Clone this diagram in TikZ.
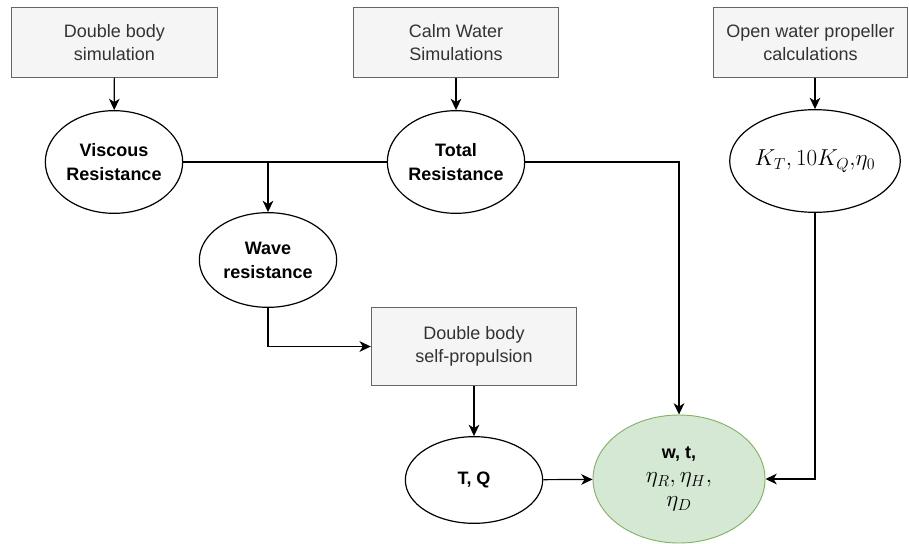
\documentclass[tikz,border=0pt]{standalone}
\usepackage{amssymb}
\usepackage{amsmath}
\usepackage{fontspec}
\setmainfont{Liberation Sans}
\usepackage{tikz}
\usetikzlibrary{arrows.meta}
\usetikzlibrary{shapes.geometric}
\usetikzlibrary{positioning}

\definecolor{boxfill}{HTML}{F5F5F5}
\definecolor{boxline}{HTML}{666666}
\definecolor{boxtext}{HTML}{333333}
\definecolor{goalfill}{HTML}{D5E8D4}
\definecolor{goalline}{HTML}{82B366}

\begin{document}
\begin{tikzpicture}[->,>={Stealth[length=8.5pt,width=8pt,inset=2.5pt]},x=0.75pt,y=-0.75pt,line width=0.9pt,
	sim/.style={rectangle, draw=boxline, fill=boxfill, text=boxtext, line width=0.8pt, minimum width=154pt, minimum height=52pt, align=center, font=\fontsize{13.5}{17}\selectfont},
	qty/.style={ellipse, draw, fill=white, inner sep=0pt, minimum width=103pt, minimum height=77pt, align=center, font=\fontsize{13.5}{18}\selectfont\bfseries}]
	\useasboundingbox (0,0) rectangle (909,543);

	% simulations
	\node[sim] (DB) at (114.5,42.5) {Double body\\simulation};
	\node[sim] (CW) at (456,42.5) {Calm Water\\Simulations};
	\node[sim, minimum width=146pt] (OW) at (810.5,42.5) {Open water propeller\\calculations};
	\node[sim, minimum height=58pt] (SP) at (474,346.5) {Double body\\self-propulsion};

	% quantities
	\node[qty] (VR) at (114,162) {Viscous\\Resistance};
	\node[qty] (TR) at (456,162) {Total\\Resistance};
	\node[qty, font=\fontsize{16.5}{18}\selectfont] (KT) at (815,161) {$K_T, 10K_Q{,}\eta_0$};
	\node[qty, minimum height=71pt] (WR) at (268,260) {Wave\\resistance};
	\node[qty, minimum height=65pt] (TQ) at (474,480) {T, Q};
	\node[qty, fill=goalfill, draw=goalline, line width=0.7pt, minimum width=129pt, minimum height=96pt, font=\fontsize{13.5}{18}\selectfont] (G) at (679,479)
		{\textbf{w, t,}\\\fontsize{16.5}{18}\selectfont$\eta_R, \eta_H,$\\\fontsize{16.5}{18}\selectfont$\eta_D$};

	\draw (DB) to (VR);
	\draw (CW) to (TR);
	\draw (OW.south -| KT) to (KT);
	\draw[-] (VR) to (TR);
	\draw (VR.east -| WR) to (WR);
	\draw (WR) |- (SP);
	\draw (SP) to (TQ);
	\draw (TR) -| (G);
	\draw (KT) |- (G);
	\draw (TQ) to (G);
\end{tikzpicture}
\end{document}
